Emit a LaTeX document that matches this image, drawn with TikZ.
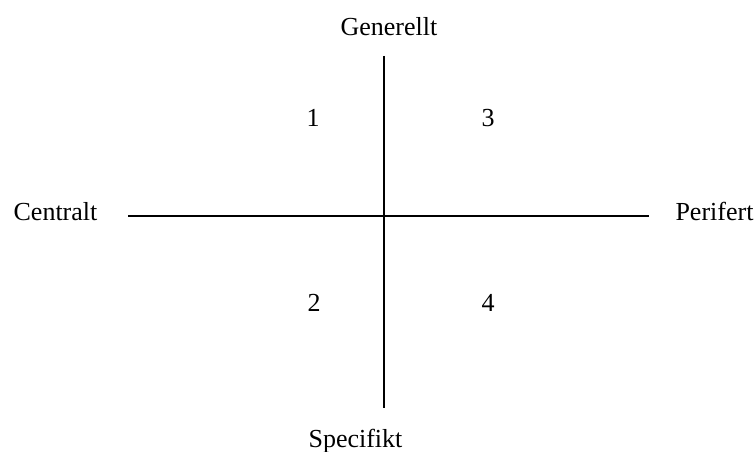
\documentclass[tikz,border=0pt]{standalone}
\usepackage{fontspec}
\setmainfont{Liberation Serif}
\begin{document}
\begin{tikzpicture}[x=1pt,y=-1pt,
  lbl/.style={anchor=base, inner sep=0pt, font=\fontsize{26}{30}\selectfont},
  axisline/.style={line width=2pt}]
\useasboundingbox (0,0) rectangle (756,452);
\coordinate (top) at (384,56);
\coordinate (bot) at (384,408);
\coordinate (lft) at (128,216);
\coordinate (rgt) at (649,216);
\draw[axisline] (top) -- (bot);
\draw[axisline] (lft) -- (rgt);
\node[lbl] (gen) at (389,36) {Generellt};
\node[lbl] (spec) at (355.5,447.5) {Specifikt};
\node[lbl] (cen) at (55.5,220) {Centralt};
\node[lbl] (per) at (714.5,220) {Perifert};
\node[lbl] (q1) at (313,127) {1};
\node[lbl] (q3) at (488,127) {3};
\node[lbl] (q2) at (314,311) {2};
\node[lbl] (q4) at (488,311) {4};
\end{tikzpicture}
\end{document}
